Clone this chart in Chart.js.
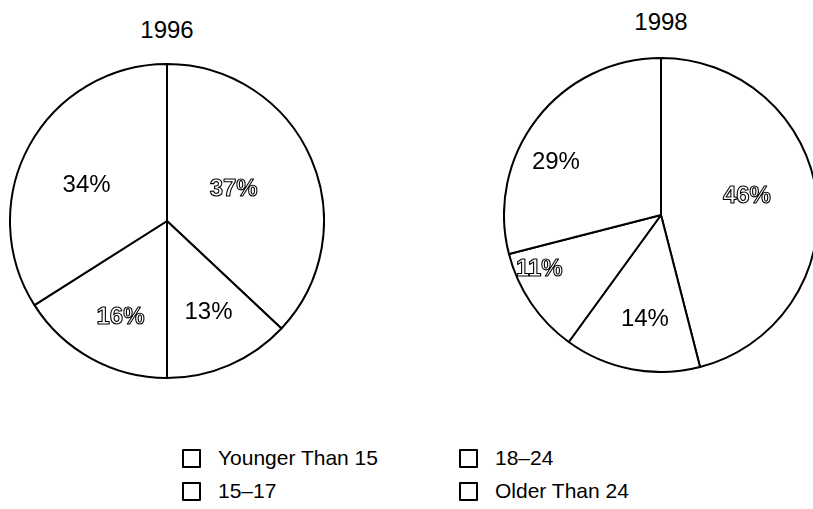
<!DOCTYPE html>
<html>
<head>
<meta charset="utf-8">
<script src="https://cdn.jsdelivr.net/npm/chart.js@4.4.0/dist/chart.umd.min.js"></script>
<style>
  html, body { margin: 0; padding: 0; background: #fff; overflow: hidden; }
  body { width: 813px; height: 509px; position: relative; font-family: "Liberation Sans", Arial, sans-serif; color: #000; }
  canvas { position: absolute; }
  .title { position: absolute; font-size: 24px; transform: translateX(-50%); white-space: nowrap; }
  #legend { position: absolute; left: 182px; top: 446px; display: grid; grid-template-rows: 24px 24px; grid-auto-flow: column; grid-template-columns: 277px auto; row-gap: 9px; font-size: 21px; }
  #legend div { display: flex; align-items: center; white-space: nowrap; }
  #legend span.box { width: 15px; height: 15px; border: 2px solid #000; border-radius: 1px; margin-right: 17px; }
</style>
</head>
<body>
<div class="title" id="t0" style="left:167px; top:16px"></div>
<div class="title" id="t1" style="left:661px; top:8px"></div>
<canvas id="pie1996" width="316" height="316" style="left:9px; top:63px"></canvas>
<canvas id="pie1998" width="316" height="316" style="left:503px; top:57px"></canvas>
<div id="legend"></div>
<script>
const years = ['1996', '1998']
const groups = ['Younger Than 15', '15\u201317', '18\u201324', 'Older Than 24']
const share1996 = [37, 13, 16, 34]
const share1998 = [46, 14, 11, 29]

// label placement (fraction of radius, angle shift in degrees) and outlined text
const place1996 = { dist: [0.47, 0.64, 0.68, 0.56], shift: [-2, -1, -3, -5] }
const place1998 = { dist: [0.56, 0.67, 0.85, 0.75], shift: [-5, -2, 10, -11] }
const hollow = [true, false, true, false]

const sliceLabels = {
  id: 'sliceLabels',
  afterDatasetsDraw (chart, args, opts) {
    const ctx = chart.ctx
    const ds = chart.data.datasets[0]
    chart.getDatasetMeta(0).data.forEach((arc, i) => {
      const p = arc.getProps(['x', 'y', 'startAngle', 'endAngle', 'outerRadius'], true)
      const a = (p.startAngle + p.endAngle) / 2 + opts.shift[i] * Math.PI / 180
      const r = p.outerRadius * opts.dist[i]
      const x = p.x + Math.cos(a) * r
      const y = p.y + Math.sin(a) * r
      const txt = ds.data[i] + '%'
      ctx.save()
      ctx.textAlign = 'center'
      ctx.textBaseline = 'middle'
      if (hollow[i]) {
        // outlined lettering: white glyph with a thin black contour
        ctx.font = 'bold 24px "Liberation Sans", Arial, sans-serif'
        ctx.fillStyle = '#fff'
        ctx.fillText(txt, x, y)
        ctx.lineWidth = 1.1
        ctx.lineJoin = 'round'
        ctx.strokeStyle = '#000'
        ctx.strokeText(txt, x, y)
      } else {
        ctx.font = '24px "Liberation Sans", Arial, sans-serif'
        ctx.fillStyle = '#000'
        ctx.fillText(txt, x, y)
      }
      ctx.restore()
    })
  }
}

function makePie (id, values, place) {
  return new Chart(document.getElementById(id), {
    type: 'pie',
    data: {
      labels: groups,
      datasets: [{ data: values, backgroundColor: '#fff', borderColor: '#000', borderWidth: 2 }]
    },
    options: {
      responsive: false,
      animation: false,
      layout: { padding: 0 },
      plugins: {
        legend: { display: false },
        tooltip: { enabled: false },
        sliceLabels: place
      }
    },
    plugins: [sliceLabels]
  })
}

makePie('pie1996', share1996, place1996)
makePie('pie1998', share1998, place1998)

document.getElementById('t0').textContent = years[0]
document.getElementById('t1').textContent = years[1]

const $legend = document.getElementById('legend')
groups.forEach(g => {
  const item = document.createElement('div')
  item.innerHTML = '<span class="box"></span>' + g
  $legend.appendChild(item)
})
</script>
</body>
</html>
